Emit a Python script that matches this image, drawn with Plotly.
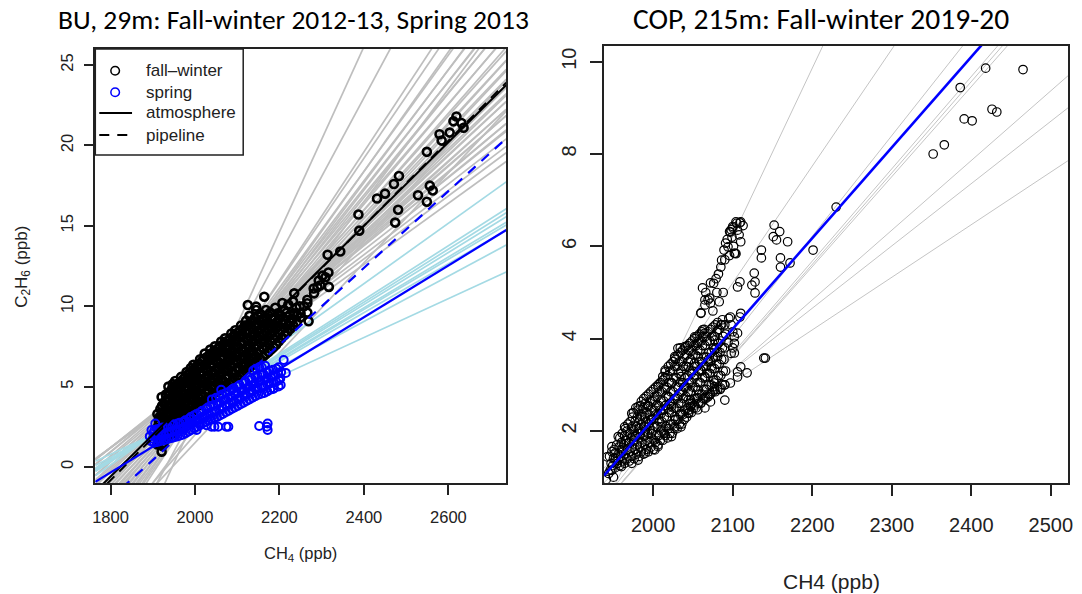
import plotly.graph_objects as go

W, H = 1082, 594

# ================= LEFT PANEL (BU, 29m) =================
# fall-winter observations (CH4 ppb, C2H6 ppb) - main reading
fw_ch4 = [
    1911, 1913, 1910, 1914, 1911,
    1921, 1918, 1920, 1917, 1921, 1918, 1921,
    1926, 1928, 1925, 1929, 1926, 1928,
    1934, 1936, 1933, 1937, 1935, 1933, 1936, 1937,
    1946, 1944, 1947, 1945, 1943, 1946, 1944, 1947,
    1955, 1957, 1954, 1956, 1953, 1957, 1955, 1953,
    1966, 1964, 1967, 1965, 1968, 1964, 1966, 1967,
    1977, 1979, 1976, 1978, 1975, 1979, 1977, 1980,
    1988, 1986, 1989, 1987, 1990, 1986, 1988, 1990,
    1999, 2001, 1998, 2000, 1997, 2001, 1999, 1996,
    2010, 2008, 2011, 2009, 2012, 2008, 2011, 2012,
    2022, 2024, 2021, 2023, 2020, 2024, 2022, 2023,
    2034, 2032, 2035, 2033, 2036, 2032, 2035, 2036,
    2046, 2048, 2045, 2047, 2044, 2048, 2046, 2047,
    2058, 2056, 2059, 2057, 2060, 2056, 2059, 2062,
    2070, 2072, 2069, 2071, 2068, 2072, 2070, 2071,
    2082, 2080, 2083, 2081, 2084, 2080, 2083, 2086,
    2094, 2096, 2093, 2095, 2092, 2096, 2094, 2095,
    2106, 2104, 2107, 2105, 2108, 2104, 2107, 2109,
    2118, 2120, 2117, 2119, 2116, 2120, 2118, 2121,
    2130, 2128, 2131, 2129, 2132, 2128, 2131, 2129, 2125,
    2142, 2144, 2141, 2143, 2140, 2144, 2141, 2145,
    2155, 2153, 2156, 2154, 2157, 2153, 2156, 2145,
    2167, 2169, 2166, 2168, 2165, 2169, 2168, 2164,
    2180, 2178, 2181, 2179, 2182, 2178,
    2192, 2194, 2191, 2193, 2196, 2190,
    2205, 2203, 2206, 2204, 2211, 2207,
    2219, 2220, 2219, 2217, 2221,
    2233, 2231, 2235, 2232, 2235,
    2250, 2250, 2248, 2258,
    2266, 2266, 2266, 2269,
    2282, 2281, 2290, 2293, 2297, 2302, 2309, 2316, 2317, 2314, 2344,
    2387, 2389, 2431, 2450, 2471, 2483, 2481, 2474,
    2528, 2549, 2556, 2563, 2549, 2579, 2584, 2603, 2612, 2619, 2631, 2636,
]
fw_c2h6 = [
    1.4, 1.9, 2.4, 2.9, 3.3,
    0.95, 1.7, 2.2, 2.7, 3.1, 3.6, 4.35,
    1.5, 2.0, 2.5, 3.0, 3.4, 3.9,
    1.8, 2.3, 2.8, 3.2, 3.7, 4.2, 4.6, 5.0,
    2.1, 2.6, 3.0, 3.5, 3.9, 4.4, 4.8, 5.15,
    2.4, 2.9, 3.3, 3.8, 4.2, 4.7, 5.1, 5.35,
    2.7, 3.1, 3.6, 4.0, 4.5, 4.9, 5.3, 5.6,
    3.0, 3.4, 3.9, 4.3, 4.8, 5.25, 5.6, 5.9,
    3.3, 3.7, 4.2, 4.6, 5.1, 5.5, 5.85, 6.15,
    3.6, 4.0, 4.5, 5.0, 5.4, 5.8, 6.1, 6.35,
    3.9, 4.3, 4.8, 5.2, 5.7, 6.1, 6.4, 6.7,
    4.1, 4.6, 5.0, 5.5, 5.9, 6.35, 6.75, 7.05,
    4.3, 4.8, 5.3, 5.7, 6.2, 6.6, 7.0, 7.3,
    4.6, 5.0, 5.5, 6.0, 6.4, 6.85, 7.2, 7.5,
    4.8, 5.3, 5.7, 6.2, 6.7, 7.1, 7.5, 7.8,
    5.0, 5.5, 6.0, 6.4, 6.9, 7.35, 7.7, 8.0,
    5.2, 5.7, 6.2, 6.7, 7.1, 7.55, 7.95, 8.3,
    5.5, 6.0, 6.4, 6.9, 7.4, 7.8, 8.2, 8.5,
    5.7, 6.2, 6.7, 7.1, 7.6, 8.1, 8.5, 8.8,
    6.0, 6.4, 6.9, 7.4, 7.8, 8.3, 8.8, 9.1,
    6.2, 6.7, 7.1, 7.6, 8.1, 8.5, 9.0, 9.4, 10.07,
    6.5, 6.9, 7.4, 7.9, 8.3, 8.8, 9.25, 9.76,
    6.7, 7.2, 7.7, 8.1, 8.6, 9.1, 9.5, 9.97,
    7.0, 7.5, 7.9, 8.4, 8.9, 9.3, 9.76, 10.59,
    7.3, 7.8, 8.3, 8.7, 9.2, 9.6,
    7.6, 8.1, 8.6, 9.0, 9.56, 9.9,
    8.0, 8.5, 8.9, 9.4, 9.76, 10.2,
    8.4, 8.8, 9.35, 9.6, 10.1,
    8.8, 9.2, 9.56, 10.3, 10.8,
    9.3, 9.56, 10.0, 10.0,
    9.6, 10.18, 10.4, 9.06,
    10.8, 11.1, 11.2, 11.6, 11.3, 11.9, 11.8, 12.1, 11.2, 13.2, 13.4,
    15.7, 14.7, 16.7, 17.0, 17.6, 18.1, 16.0, 15.2,
    16.9, 16.5, 17.5, 17.2, 19.6, 20.7, 20.3, 20.8, 21.5, 21.8, 21.4, 21.1,
]
# fall-winter observations - additional points read in the dense core
fw_core_ch4 = [
    1915, 1916, 1914, 1916,
    1923, 1924, 1922, 1924, 1923, 1922,
    1930, 1931, 1929, 1931, 1930, 1929, 1931,
    1940, 1941, 1939, 1941, 1940, 1939, 1941,
    1950, 1951, 1949, 1951, 1950, 1949, 1951,
    1960, 1961, 1959, 1961, 1960, 1959, 1961,
    1971, 1972, 1970, 1972, 1971, 1970, 1972,
    1982, 1983, 1981, 1983, 1982, 1981, 1983,
    1993, 1994, 1992, 1994, 1993, 1992, 1994,
    2004, 2005, 2003, 2005, 2004, 2003, 2005,
    2016, 2017, 2015, 2017, 2016, 2015, 2017,
    2028, 2029, 2027, 2029, 2028, 2027, 2029,
    2040, 2041, 2039, 2041, 2040, 2039, 2041,
    2052, 2053, 2051, 2053, 2052, 2051, 2053,
    2064, 2065, 2063, 2065, 2064, 2063, 2065,
    2076, 2077, 2075, 2077, 2076, 2075, 2077,
    2088, 2089, 2087, 2089, 2088, 2087, 2089,
    2100, 2101, 2099, 2101, 2100, 2099, 2101,
    2112, 2113, 2111, 2113, 2112, 2111, 2113,
    2124, 2125, 2123, 2125, 2124, 2123, 2125,
    2136, 2137, 2135, 2137, 2136, 2135, 2137,
    2148, 2149, 2147, 2149, 2148, 2147, 2149,
    2161, 2162, 2160, 2162, 2161, 2160,
    2174, 2175, 2173, 2175, 2174, 2173,
    2186, 2187, 2185, 2187, 2186,
    2198, 2199, 2197, 2199,
    2212, 2213, 2211,
    2226, 2227, 2225,
    2241, 2242, 2240,
]
fw_core_c2h6 = [
    1.65, 2.15, 2.65, 3.1,
    1.3, 1.85, 2.35, 2.85, 3.35, 3.8,
    1.7, 2.2, 2.7, 3.2, 3.65, 4.1, 4.5,
    1.95, 2.45, 2.9, 3.35, 3.8, 4.2, 4.65,
    2.25, 2.7, 3.15, 3.6, 4.05, 4.5, 4.95,
    2.55, 3.0, 3.45, 3.9, 4.35, 4.8, 5.2,
    2.85, 3.25, 3.75, 4.2, 4.65, 5.1, 5.45,
    3.15, 3.55, 4.05, 4.45, 4.95, 5.4, 5.75,
    3.45, 3.85, 4.35, 4.8, 5.25, 5.65, 6.0,
    3.75, 4.15, 4.65, 5.1, 5.5, 5.95, 6.3,
    4.0, 4.45, 4.9, 5.35, 5.8, 6.2, 6.6,
    4.2, 4.7, 5.15, 5.6, 6.05, 6.45, 6.85,
    4.45, 4.9, 5.4, 5.85, 6.3, 6.7, 7.1,
    4.7, 5.15, 5.6, 6.1, 6.55, 6.95, 7.35,
    4.9, 5.4, 5.85, 6.3, 6.8, 7.2, 7.6,
    5.1, 5.6, 6.1, 6.55, 7.0, 7.45, 7.85,
    5.35, 5.85, 6.3, 6.8, 7.25, 7.7, 8.1,
    5.6, 6.1, 6.55, 7.0, 7.5, 7.95, 8.35,
    5.85, 6.3, 6.8, 7.25, 7.7, 8.2, 8.6,
    6.1, 6.55, 7.0, 7.5, 7.95, 8.4, 8.8,
    6.35, 6.8, 7.25, 7.75, 8.2, 8.65, 9.1,
    6.6, 7.05, 7.55, 8.0, 8.45, 8.9, 9.4,
    6.85, 7.35, 7.8, 8.25, 8.75, 9.2,
    7.15, 7.6, 8.1, 8.5, 8.95, 9.45,
    7.45, 7.95, 8.4, 8.85, 9.3,
    7.8, 8.3, 8.75, 9.2,
    8.2, 8.65, 9.1,
    8.6, 9.0, 9.45,
    9.0, 9.45, 9.9,
]

# spring observations
sp_ch4 = [
    1893, 1896, 1897, 1903, 1905, 1904, 1906, 1917, 1919, 1918,
    1931, 1933, 1945, 1944, 1946, 1958, 1957, 1959, 1971, 1973, 1972,
    1985, 1984, 1986, 1998, 1999, 1997, 2004, 2012, 2011, 2013,
    2025, 2024, 2026, 2027, 2038, 2039, 2037, 2040, 2039, 2046, 2055,
    2052, 2051, 2053, 2050, 2062, 2066, 2065, 2067, 2064, 2074, 2079,
    2080, 2081, 2079, 2082, 2094, 2093, 2095, 2092, 2108, 2107, 2109, 2106,
    2122, 2121, 2123, 2120, 2136, 2135, 2137, 2134, 2138,
    2150, 2149, 2151, 2148, 2152, 2152, 2164, 2163, 2165, 2162, 2166,
    2170, 2172, 2172, 2178, 2177, 2179, 2176, 2187, 2192, 2191, 2193,
    2203, 2202, 2204, 2210, 2215,
    1900, 1901, 1911, 1912, 1910, 1925, 1926, 1924, 1938, 1939, 1937,
    1951, 1952, 1950, 1965, 1966, 1964, 1978, 1979, 1977, 1991, 1992, 1990,
    2005, 2006, 2004, 2018, 2019, 2017, 2031, 2032, 2030, 2045, 2046, 2044,
    2059, 2060, 2058, 2059, 2073, 2074, 2072, 2073, 2087, 2088, 2086, 2087,
    2101, 2102, 2100, 2101, 2115, 2116, 2114, 2115, 2129, 2130, 2128, 2129,
    2143, 2144, 2142, 2143, 2144, 2157, 2158, 2156, 2157, 2158,
    2171, 2172, 2170, 2171, 2185, 2186, 2184, 2185, 2198, 2199, 2197, 2198,
]
sp_c2h6 = [
    1.9, 1.6, 2.3, 1.5, 1.9, 2.3, 2.7, 1.6, 2.0, 2.4,
    1.7, 2.1, 1.8, 2.2, 2.6, 1.9, 2.3, 2.7, 2.0, 2.4, 2.8,
    2.2, 2.6, 3.0, 2.4, 2.8, 3.2, 2.3, 2.6, 3.0, 3.4,
    2.8, 3.2, 3.6, 2.6, 3.0, 3.4, 3.8, 4.2, 2.5, 2.5, 2.5,
    3.1, 3.5, 3.9, 4.3, 4.8, 3.3, 3.7, 4.1, 4.5, 2.5, 2.5,
    3.5, 3.9, 4.3, 4.7, 3.7, 4.1, 4.5, 4.9, 3.9, 4.3, 4.7, 5.1,
    4.1, 4.5, 4.9, 5.3, 4.3, 4.7, 5.1, 5.5, 6.0,
    4.5, 4.9, 5.3, 5.7, 6.2, 2.55, 4.6, 5.0, 5.4, 5.8, 6.3,
    2.5, 2.7, 2.3, 4.8, 5.2, 5.6, 6.0, 4.9, 5.3, 5.7, 6.1,
    5.1, 5.5, 5.9, 6.65, 5.85,
    1.75, 2.1, 1.55, 1.95, 2.35, 1.65, 2.05, 2.45, 1.75, 2.15, 2.5,
    1.85, 2.25, 2.65, 1.95, 2.35, 2.75, 2.1, 2.5, 2.9, 2.3, 2.7, 3.1,
    2.5, 2.9, 3.3, 2.7, 3.1, 3.5, 2.9, 3.3, 3.7, 3.05, 3.45, 3.85,
    3.2, 3.6, 4.0, 4.4, 3.4, 3.8, 4.2, 4.6, 3.6, 4.0, 4.4, 4.8,
    3.8, 4.2, 4.6, 5.0, 4.0, 4.4, 4.8, 5.2, 4.2, 4.6, 5.0, 5.4,
    4.4, 4.8, 5.2, 5.6, 6.1, 4.55, 4.95, 5.35, 5.75, 6.2,
    4.7, 5.1, 5.5, 5.9, 4.85, 5.25, 5.65, 6.05, 5.0, 5.4, 5.8, 6.2,
]

# individual fall-winter event fits (slope ppb/ppb, C2H6 at CH4 = 2000 ppb)
fw_event_slope = [
    0.0576, 0.0489, 0.0400, 0.0385, 0.0372, 0.0362, 0.0352, 0.0345,
    0.0338, 0.0331, 0.0324, 0.0318, 0.0311, 0.0305, 0.0300, 0.0294,
    0.0290, 0.0285, 0.0280, 0.0276, 0.0270, 0.0266, 0.0262, 0.0258,
    0.0254, 0.0250, 0.0246, 0.0242, 0.0238, 0.0234, 0.0230, 0.0226,
    0.0222, 0.0218, 0.0214, 0.0210, 0.0205, 0.0200, 0.0196, 0.0190,
    0.0350, 0.0300, 0.0280,
]
fw_event_at2000 = [
    3.1, 3.4, 3.6, 3.8, 3.5, 3.9, 3.6, 4.0,
    3.7, 4.1, 3.8, 4.2, 3.9, 4.3, 4.0, 4.2,
    3.9, 4.3, 4.0, 4.4, 4.1, 4.5, 4.3, 4.6,
    4.4, 4.8, 4.6, 4.9, 4.7, 5.0, 4.9, 5.2,
    5.0, 5.3, 5.2, 5.4, 5.3, 5.2, 5.1, 5.0,
    2.5, 2.0, 1.5,
]
# individual spring event fits
sp_event_slope = [0.0188, 0.0168, 0.0165, 0.0162, 0.0158, 0.0156, 0.0152, 0.0141, 0.0121]
sp_event_at2000 = [3.88, 3.68, 3.65, 3.62, 3.58, 3.56, 3.52, 3.41, 3.21]

# overall fits
fw_atm_slope, fw_atm_at2000 = 0.0260, 4.60
fw_pipe_slope, fw_pipe_at2000 = 0.0264, 4.45
sp_atm_slope, sp_atm_at2000 = 0.0161, 2.87
sp_pipe_slope, sp_pipe_at2000 = 0.0239, 2.82

legend_labels = ["fall\u2013winter", "spring", "atmosphere", "pipeline"]

# ================= RIGHT PANEL (COP, 215m) =================
cop_ch4 = [
    1942, 1944, 1948, 1948, 1952, 1956, 1956, 1960, 1960, 1964, 1965, 1969,
    1973, 1973, 1973, 1977, 1981, 1981, 1981, 1985, 1985, 1990, 1990, 1994,
    1998, 1998, 2002, 2002, 2006, 2006, 2006, 2010, 2010, 2012, 2014, 2015,
    2015, 2015, 2019, 2023, 2023, 2023, 2027, 2027, 2027, 2027, 2031, 2031,
    2034, 2035, 2035, 2035, 2040, 2040, 2044, 2044, 2044, 2044, 2047, 2047,
    2048, 2052, 2052, 2052, 2056, 2056, 2056, 2056, 2056, 2060, 2060, 2060,
    2060, 2062, 2062, 2065, 2065, 2065, 2065, 2065, 2065, 2066, 2069, 2069,
    2069, 2071, 2071, 2072, 2073, 2072, 2072, 2077, 2077, 2077, 2077, 2077,
    2081, 2081, 2085, 2085, 2085, 2087, 2090, 2090, 2090, 2090, 2091, 2089,
    2094, 2095, 2094, 2096, 2097, 2098, 2098, 2097, 2097, 2098, 2100, 2100,
    2100, 2100, 2102, 2102, 2102, 2103, 2102, 2104, 2104, 2105, 2106, 2106,
    2106, 2106, 2109, 2109, 2109, 2110, 2110, 2110, 2110, 2118, 2124, 2127,
    2128, 2128, 2136, 2136, 2139, 2141, 2151, 2152, 2155, 2159, 2160, 2160,
    2169, 2172, 2201, 2230,
    2093, 2099, 2106, 2101, 2096, 2108, 2113, 2086, 2082, 2079, 2076,
    2075, 2083, 2088, 2080, 1941, 1950,
    2352, 2366, 2386, 2391, 2401, 2418, 2426, 2432, 2465,
]
cop_c2h6 = [
    1.44, 1.08, 1.15, 1.66, 1.52, 1.37, 1.88, 1.23, 1.59, 2.09, 1.80, 1.73,
    1.30, 2.09, 2.38, 1.88, 1.37, 1.95, 2.53, 2.31, 2.64, 1.52, 2.09, 2.53,
    1.95, 2.24, 1.59, 2.67, 1.66, 2.24, 2.96, 2.09, 2.38, 3.18, 1.95, 2.89,
    3.28, 3.32, 2.74, 1.88, 2.53, 3.03, 2.09, 2.31, 3.61, 3.58, 2.74, 3.79,
    3.80, 2.09, 2.38, 3.18, 2.96, 3.83, 2.38, 2.67, 3.39, 2.45, 2.53, 2.67,
    3.25, 3.47, 2.56, 4.04, 2.46, 2.72, 2.89, 3.61, 3.90, 2.61, 3.32, 4.55,
    4.56, 4.19, 5.10, 2.50, 2.72, 3.18, 4.12, 4.73, 4.84, 5.00, 2.74, 3.54,
    4.84, 2.78, 4.88, 2.63, 3.39, 4.77, 5.21, 2.89, 2.96, 3.04, 3.76, 3.97,
    3.61, 4.19, 2.93, 4.30, 5.55, 4.41, 3.00, 2.67, 4.30, 5.71, 6.07, 5.92,
    3.91, 4.44, 5.99, 6.32, 3.04, 3.68, 4.30, 4.47, 6.31, 6.36, 3.80, 4.15,
    6.40, 6.43, 3.69, 3.90, 4.04, 5.85, 5.85, 5.84, 6.53, 6.50, 3.17, 3.28,
    4.12, 5.12, 4.47, 5.23, 6.51, 4.55, 3.39, 6.10, 6.53, 3.26, 5.16, 5.42,
    4.99, 5.23, 5.75, 5.92, 3.58, 3.58, 6.21, 6.46, 6.14, 6.32, 5.75, 5.55,
    6.10, 5.64, 5.92, 6.85,
    6.15, 6.20, 6.35, 6.00, 5.80, 6.25, 6.45, 5.70, 5.40, 5.30, 5.20,
    4.60, 4.80, 5.00, 5.00, 0.95, 1.00,
    8.00, 8.20, 9.44, 8.76, 8.72, 9.86, 8.97, 8.91, 9.83,
]
# additional points read in the dense part of the COP cloud
cop_core_ch4 = [
    1946, 1947, 1945,
    1952, 1953, 1951,
    1958, 1959, 1957, 1958,
    1964, 1965, 1963, 1964, 1965,
    1970, 1971, 1969, 1970, 1971,
    1976, 1977, 1975, 1976, 1977, 1975,
    1982, 1983, 1981, 1982, 1983, 1981,
    1988, 1989, 1987, 1988, 1989, 1987, 1988,
    1994, 1995, 1993, 1994, 1995, 1993, 1994,
    2000, 2001, 1999, 2000, 2001, 1999, 2000,
    2006, 2007, 2005, 2006, 2007, 2005, 2006,
    2012, 2013, 2011, 2012, 2013, 2011, 2012,
    2018, 2019, 2017, 2018, 2019, 2017, 2018, 2019,
    2024, 2025, 2023, 2024, 2025, 2023, 2024, 2025,
    2030, 2031, 2029, 2030, 2031, 2029, 2030, 2031,
    2036, 2037, 2035, 2036, 2037, 2035, 2036, 2037,
    2042, 2043, 2041, 2042, 2043, 2041, 2042, 2043,
    2048, 2049, 2047, 2048, 2049, 2047, 2048, 2049,
    2054, 2055, 2053, 2054, 2055, 2053, 2054, 2055,
    2060, 2061, 2059, 2060, 2061, 2059, 2060, 2061,
    2066, 2067, 2065, 2066, 2067, 2065, 2066,
    2072, 2073, 2071, 2072, 2073, 2071, 2072,
    2078, 2079, 2077, 2078, 2079, 2077, 2078,
    2084, 2085, 2083, 2084, 2085, 2083,
    2090, 2091, 2089, 2090, 2091,
]
cop_core_c2h6 = [
    1.15, 1.30, 1.45,
    1.20, 1.40, 1.60,
    1.25, 1.45, 1.65, 1.85,
    1.30, 1.50, 1.70, 1.90, 2.05,
    1.35, 1.55, 1.75, 1.95, 2.20,
    1.40, 1.60, 1.80, 2.00, 2.20, 2.40,
    1.45, 1.65, 1.85, 2.05, 2.25, 2.45,
    1.50, 1.70, 1.90, 2.10, 2.30, 2.50, 2.70,
    1.55, 1.75, 1.95, 2.15, 2.35, 2.55, 2.80,
    1.60, 1.80, 2.00, 2.25, 2.45, 2.65, 2.90,
    1.70, 1.90, 2.10, 2.35, 2.55, 2.75, 3.00,
    1.80, 2.00, 2.20, 2.45, 2.65, 2.85, 3.10,
    1.85, 2.05, 2.30, 2.50, 2.75, 2.95, 3.20, 3.40,
    1.95, 2.15, 2.40, 2.60, 2.85, 3.05, 3.30, 3.50,
    2.05, 2.25, 2.50, 2.70, 2.95, 3.15, 3.40, 3.65,
    2.15, 2.35, 2.60, 2.85, 3.05, 3.30, 3.50, 3.75,
    2.30, 2.50, 2.75, 2.95, 3.20, 3.40, 3.65, 3.85,
    2.40, 2.60, 2.85, 3.05, 3.30, 3.55, 3.75, 3.95,
    2.50, 2.70, 2.95, 3.20, 3.40, 3.65, 3.85, 4.05,
    2.60, 2.80, 3.05, 3.30, 3.50, 3.75, 3.95, 4.15,
    2.70, 2.90, 3.15, 3.40, 3.60, 3.85, 4.05,
    2.80, 3.00, 3.25, 3.50, 3.70, 3.95, 4.20,
    2.85, 3.10, 3.35, 3.60, 3.80, 4.05, 4.30,
    2.90, 3.20, 3.45, 3.70, 3.95, 4.20,
    3.00, 3.30, 3.55, 3.80, 4.10,
]
# second pass of readings in the same dense cloud (between the columns above)
cop_fill_ch4 = [
    1949, 1950, 1948,
    1955, 1956, 1954,
    1961, 1962, 1960, 1961,
    1967, 1968, 1966, 1967, 1968,
    1973, 1974, 1972, 1973, 1974,
    1979, 1980, 1978, 1979, 1980, 1978,
    1985, 1986, 1984, 1985, 1986, 1984,
    1991, 1992, 1990, 1991, 1992, 1990, 1991,
    1997, 1998, 1996, 1997, 1998, 1996, 1997,
    2003, 2004, 2002, 2003, 2004, 2002, 2003,
    2009, 2010, 2008, 2009, 2010, 2008, 2009,
    2015, 2016, 2014, 2015, 2016, 2014, 2015,
    2021, 2022, 2020, 2021, 2022, 2020, 2021, 2022,
    2027, 2028, 2026, 2027, 2028, 2026, 2027, 2028,
    2033, 2034, 2032, 2033, 2034, 2032, 2033, 2034,
    2039, 2040, 2038, 2039, 2040, 2038, 2039, 2040,
    2045, 2046, 2044, 2045, 2046, 2044, 2045, 2046,
    2051, 2052, 2050, 2051, 2052, 2050, 2051, 2052,
    2057, 2058, 2056, 2057, 2058, 2056, 2057, 2058,
    2063, 2064, 2062, 2063, 2064, 2062, 2063, 2064,
    2069, 2070, 2068, 2069, 2070, 2068, 2069,
    2075, 2076, 2074, 2075, 2076, 2074, 2075,
    2081, 2082, 2080, 2081, 2082, 2080, 2081,
    2087, 2088, 2086, 2087, 2088, 2086,
]
cop_fill_c2h6 = [
    1.25, 1.40, 1.55,
    1.30, 1.50, 1.70,
    1.35, 1.55, 1.75, 1.95,
    1.40, 1.60, 1.80, 2.00, 2.15,
    1.45, 1.65, 1.85, 2.05, 2.30,
    1.50, 1.70, 1.90, 2.10, 2.30, 2.50,
    1.55, 1.75, 1.95, 2.15, 2.35, 2.55,
    1.60, 1.80, 2.00, 2.20, 2.40, 2.60, 2.75,
    1.65, 1.85, 2.05, 2.25, 2.45, 2.65, 2.85,
    1.75, 1.90, 2.10, 2.35, 2.55, 2.75, 2.95,
    1.80, 2.00, 2.20, 2.45, 2.65, 2.85, 3.05,
    1.90, 2.10, 2.30, 2.55, 2.75, 2.95, 3.15,
    1.95, 2.15, 2.40, 2.60, 2.85, 3.05, 3.30, 3.45,
    2.05, 2.25, 2.50, 2.70, 2.95, 3.15, 3.40, 3.55,
    2.15, 2.35, 2.60, 2.80, 3.05, 3.25, 3.50, 3.70,
    2.25, 2.45, 2.70, 2.95, 3.15, 3.40, 3.60, 3.80,
    2.40, 2.60, 2.85, 3.05, 3.30, 3.50, 3.75, 3.90,
    2.50, 2.70, 2.95, 3.15, 3.40, 3.65, 3.85, 4.00,
    2.60, 2.80, 3.05, 3.30, 3.50, 3.75, 3.95, 4.10,
    2.70, 2.90, 3.15, 3.40, 3.60, 3.85, 4.05, 4.20,
    2.80, 3.00, 3.25, 3.50, 3.70, 3.95, 4.15,
    2.85, 3.10, 3.35, 3.60, 3.80, 4.05, 4.25,
    2.90, 3.20, 3.45, 3.70, 3.90, 4.15, 4.35,
    3.00, 3.30, 3.55, 3.80, 4.05, 4.30,
]
# event fits (slope, C2H6 at CH4 = 2000 ppb)
cop_event_slope = [0.0364, 0.0253, 0.0218, 0.0200, 0.0198, 0.0195, 0.0151, 0.0135, 0.0114]
cop_event_at2000 = [2.58, 2.68, 1.86, 1.68, 1.65, 1.66, 1.82, 1.96, 1.91]
cop_atm_slope, cop_atm_at2000 = 0.01964, 2.25

# axis ranges / ticks
left_xrange, left_yrange = [1764, 2737], [-1.0, 26.0]
left_xticks, left_yticks = [1800, 2000, 2200, 2400, 2600], [0, 5, 10, 15, 20, 25]
right_xrange, right_yrange = [1938, 2522], [0.88, 10.34]
right_xticks, right_yticks = [2000, 2100, 2200, 2300, 2400, 2500], [2, 4, 6, 8, 10]


def line_xy(slopes, at2000, xr):
    xs, ys = [], []
    for s, b in zip(slopes, at2000):
        xs += [xr[0], xr[1], None]
        ys += [b + s * (xr[0] - 2000), b + s * (xr[1] - 2000), None]
    return xs, ys


BLUE = "#0000FF"
fig = go.Figure()

# ---- left panel ----
x, y = line_xy(fw_event_slope, fw_event_at2000, left_xrange)
fig.add_trace(go.Scatter(x=x, y=y, mode="lines", line=dict(color="#BEBEBE", width=1.7),
                         hoverinfo="skip", xaxis="x", yaxis="y"))
x, y = line_xy(sp_event_slope, sp_event_at2000, left_xrange)
fig.add_trace(go.Scatter(x=x, y=y, mode="lines", line=dict(color="#A4DAE4", width=1.7),
                         hoverinfo="skip", xaxis="x", yaxis="y"))
fig.add_trace(go.Scatter(x=fw_ch4 + fw_core_ch4, y=fw_c2h6 + fw_core_c2h6, mode="markers",
                         name=legend_labels[0],
                         marker=dict(symbol="circle-open", size=8, color="black",
                                     line=dict(width=2.6, color="black")),
                         xaxis="x", yaxis="y"))
fig.add_trace(go.Scatter(x=sp_ch4, y=sp_c2h6, mode="markers", name=legend_labels[1],
                         marker=dict(symbol="circle-open", size=8, color=BLUE,
                                     line=dict(width=2.0, color=BLUE)),
                         xaxis="x", yaxis="y"))
x, y = line_xy([fw_atm_slope], [fw_atm_at2000], left_xrange)
fig.add_trace(go.Scatter(x=x, y=y, mode="lines", name=legend_labels[2],
                         line=dict(color="black", width=2), xaxis="x", yaxis="y"))
x, y = line_xy([fw_pipe_slope], [fw_pipe_at2000], left_xrange)
fig.add_trace(go.Scatter(x=x, y=y, mode="lines", name=legend_labels[3],
                         line=dict(color="black", width=2, dash="10px,7px"), xaxis="x", yaxis="y"))
x, y = line_xy([sp_atm_slope], [sp_atm_at2000], left_xrange)
fig.add_trace(go.Scatter(x=x, y=y, mode="lines", line=dict(color=BLUE, width=2.2),
                         xaxis="x", yaxis="y"))
x, y = line_xy([sp_pipe_slope], [sp_pipe_at2000], left_xrange)
fig.add_trace(go.Scatter(x=x, y=y, mode="lines", line=dict(color=BLUE, width=2.2, dash="10px,8px"),
                         xaxis="x", yaxis="y"))

# ---- right panel ----
x, y = line_xy(cop_event_slope, cop_event_at2000, right_xrange)
fig.add_trace(go.Scatter(x=x, y=y, mode="lines", line=dict(color="#C4C4C4", width=1),
                         hoverinfo="skip", xaxis="x2", yaxis="y2"))
fig.add_trace(go.Scatter(x=cop_ch4 + cop_core_ch4 + cop_fill_ch4,
                         y=cop_c2h6 + cop_core_c2h6 + cop_fill_c2h6, mode="markers",
                         marker=dict(symbol="circle-open", size=8.5, color="black",
                                     line=dict(width=1.2, color="black")),
                         xaxis="x2", yaxis="y2"))
x, y = line_xy([cop_atm_slope], [cop_atm_at2000], right_xrange)
fig.add_trace(go.Scatter(x=x, y=y, mode="lines", line=dict(color=BLUE, width=2.6),
                         xaxis="x2", yaxis="y2"))

ARIAL = "Liberation Sans, Arial, sans-serif"
tick_font = dict(family=ARIAL, size=16.5, color="#222")
axis_common = dict(showline=True, linecolor="#222", linewidth=1.5, mirror=True,
                   ticks="outside", tickcolor="#222", tickwidth=1.5,
                   showgrid=False, zeroline=False)


def px_x(p):
    return p / W


def px_y(p):
    return 1 - p / H


# ---- hand-built legend box (R style) ----
shapes = [
    dict(type="rect", xref="paper", yref="paper", x0=px_x(93), x1=px_x(242), y0=px_y(155), y1=px_y(49),
         line=dict(color="#222", width=1.5), fillcolor="white", layer="above"),
]
legend_rows = [70.7, 92.3, 113.0, 135.0]
for row, col in zip(legend_rows[:2], ["black", BLUE]):
    shapes.append(dict(type="circle", xref="paper", yref="paper", xsizemode="pixel", ysizemode="pixel",
                       xanchor=px_x(113), yanchor=px_y(row), x0=-4.3, x1=4.3, y0=-4.3, y1=4.3,
                       line=dict(color=col, width=1.5), layer="above"))
shapes.append(dict(type="line", xref="paper", yref="paper", x0=px_x(97), x1=px_x(130),
                   y0=px_y(legend_rows[2]), y1=px_y(legend_rows[2]),
                   line=dict(color="black", width=2.2), layer="above"))
shapes.append(dict(type="line", xref="paper", yref="paper", x0=px_x(97), x1=px_x(126),
                   y0=px_y(legend_rows[3]), y1=px_y(legend_rows[3]),
                   line=dict(color="black", width=2.2, dash="10px,8px"), layer="above"))

annotations = [
    dict(text=t, x=px_x(142), y=px_y(r), xref="paper", yref="paper", showarrow=False,
         xanchor="left", yanchor="middle", font=dict(family=ARIAL, size=17, color="#222"))
    for t, r in zip(legend_labels, legend_rows)
]
annotations += [
    dict(text="BU, 29m: Fall-winter 2012-13, Spring 2013", x=px_x(293), y=px_y(19),
         xref="paper", yref="paper", showarrow=False, xanchor="center", yanchor="middle",
         font=dict(family="Carlito, Lato, sans-serif", size=27.5, color="black")),
    dict(text="COP, 215m: Fall-winter 2019-20", x=px_x(824), y=px_y(19),
         xref="paper", yref="paper", showarrow=False, xanchor="center", yanchor="middle",
         font=dict(family="Carlito, Lato, sans-serif", size=29.5, color="black")),
    dict(text="CH<sub>4</sub> (ppb)", x=px_x(300), y=px_y(554),
         xref="paper", yref="paper", showarrow=False, xanchor="center", yanchor="middle",
         font=dict(family=ARIAL, size=16.5, color="#222")),
    dict(text="C<sub>2</sub>H<sub>6</sub> (ppb)", x=px_x(20), y=px_y(267), textangle=-90,
         xref="paper", yref="paper", showarrow=False, xanchor="center", yanchor="middle",
         font=dict(family=ARIAL, size=17, color="#222")),
    dict(text="CH4 (ppb)", x=px_x(835), y=px_y(581),
         xref="paper", yref="paper", showarrow=False, xanchor="center", yanchor="middle",
         font=dict(family=ARIAL, size=21, color="#222")),
]

fig.update_layout(
    width=W, height=H, margin=dict(l=0, r=0, t=0, b=0),
    paper_bgcolor="white", plot_bgcolor="white", showlegend=False,
    xaxis=dict(domain=[px_x(93), px_x(507)], anchor="y", range=left_xrange,
               tickvals=left_xticks, ticklen=10, ticklabelstandoff=8, tickfont=tick_font, **axis_common),
    yaxis=dict(domain=[px_y(483), px_y(49)], anchor="x", range=left_yrange,
               tickvals=left_yticks, ticklen=10, tickangle=-90, ticklabelstandoff=4,
               tickfont=tick_font, **axis_common),
    xaxis2=dict(domain=[px_x(605.4), px_x(1073.3)], anchor="y2", range=right_xrange,
                tickvals=right_xticks, ticklen=12, ticklabelstandoff=12,
                tickfont=dict(tick_font, size=20), **axis_common),
    yaxis2=dict(domain=[px_y(482.7), px_y(46)], anchor="x2", range=right_yrange,
                tickvals=right_yticks, ticklen=12, tickangle=-90, ticklabelstandoff=6,
                tickfont=dict(tick_font, size=20), **axis_common),
    shapes=shapes,
    annotations=annotations,
)

fig.write_html("out.html")
